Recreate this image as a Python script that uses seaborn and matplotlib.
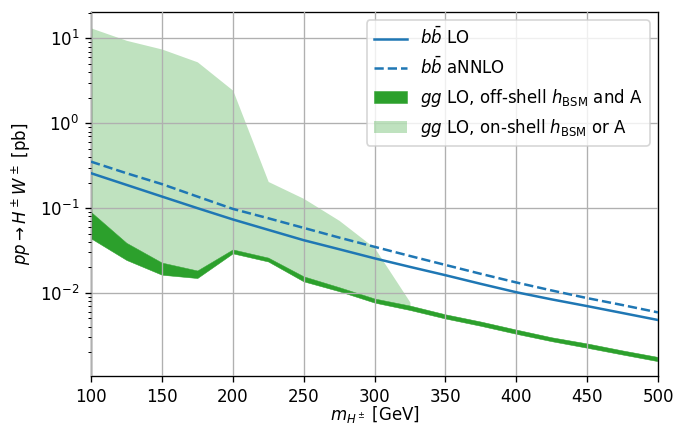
import numpy as np
import pandas as pd
import matplotlib
matplotlib.use("Agg")
import matplotlib.pyplot as plt
import seaborn as sns

# masses [GeV]
mass = [100, 125, 150, 175, 200, 225, 250, 275, 300, 325, 350, 375, 400, 425, 450, 475, 500]
# b bbar LO and aNNLO cross sections [pb]
bb_lo = [0.258, 0.188, 0.137, 0.100, 0.0736, 0.0555, 0.0419, 0.0328, 0.0256, 0.0203, 0.0162, 0.0128, 0.0102, 0.0084, 0.0070, 0.0058, 0.0048]
bb_annlo = [0.353, 0.258, 0.192, 0.137, 0.098, 0.076, 0.0585, 0.0450, 0.035, 0.0273, 0.0214, 0.0168, 0.0133, 0.0107, 0.0087, 0.0072, 0.0059]
# gg LO, off-shell band (lower / upper)
gg_off_lo = [0.044, 0.0245, 0.0164, 0.0150, 0.0293, 0.0235, 0.0137, 0.0105, 0.0077, 0.0063, 0.0050, 0.0041, 0.0033, 0.0027, 0.00226, 0.00188, 0.00157]
gg_off_hi = [0.090, 0.039, 0.0228, 0.0184, 0.0326, 0.0261, 0.0157, 0.0117, 0.0086, 0.0071, 0.0056, 0.0046, 0.0037, 0.0030, 0.00254, 0.00210, 0.00176]
# gg LO, on-shell band upper edge (100..325 GeV)
mass_on = [100, 125, 150, 175, 200, 225, 250, 275, 300, 325]
gg_on_hi = [13.3, 9.5, 7.5, 5.3, 2.45, 0.206, 0.13, 0.0717, 0.0340, 0.0078]

df = pd.DataFrame({"mass": mass, "bb_lo": bb_lo, "bb_annlo": bb_annlo,
                   "off_lo": gg_off_lo, "off_hi": gg_off_hi})

plt.rcParams["font.family"] = ["DejaVu Sans"]
plt.rcParams["font.size"] = 10
DPI = 120
fig, ax = plt.subplots(figsize=(673 / DPI, 427 / DPI), dpi=DPI)
fig.subplots_adjust(left=91 / 673, right=658 / 673, top=1 - 12 / 427, bottom=1 - 376 / 427)

blue = "#1f77b4"
green = "#2ca02c"

sns.lineplot(data=df, x="mass", y="bb_lo", ax=ax, color=blue, lw=1.5,
             label=r"$b\bar{b}$ LO", zorder=3)
sns.lineplot(data=df, x="mass", y="bb_annlo", ax=ax, color=blue, lw=1.5,
             linestyle="--", label=r"$b\bar{b}$ aNNLO", zorder=3)
n_on = len(mass_on)
ax.fill_between(mass, gg_off_lo, gg_off_hi, color=green, lw=0.3,
                label=r"$gg$ LO, off-shell $h_{\rm BSM}$ and A", zorder=1.5)
ax.fill_between(mass_on, gg_off_hi[:n_on], gg_on_hi, color=green, alpha=0.3,
                lw=0, label=r"$gg$ LO, on-shell $h_{\rm BSM}$ or A", zorder=1)

ax.set_yscale("log")
ax.set_xlim(100, 500)
ax.set_ylim(1.05e-3, 20.5)
ax.set_axisbelow(False)
ax.grid(True, which="major", color="#b0b0b0", lw=0.8, zorder=2)
ax.set_xlabel(r"$m_{H^\pm}$ [GeV]", labelpad=-1)
ax.set_ylabel(r"$pp\to H^\pm W^\pm$ [pb]")
ax.legend(loc="upper right")

fig.savefig("out.png", dpi=DPI)
